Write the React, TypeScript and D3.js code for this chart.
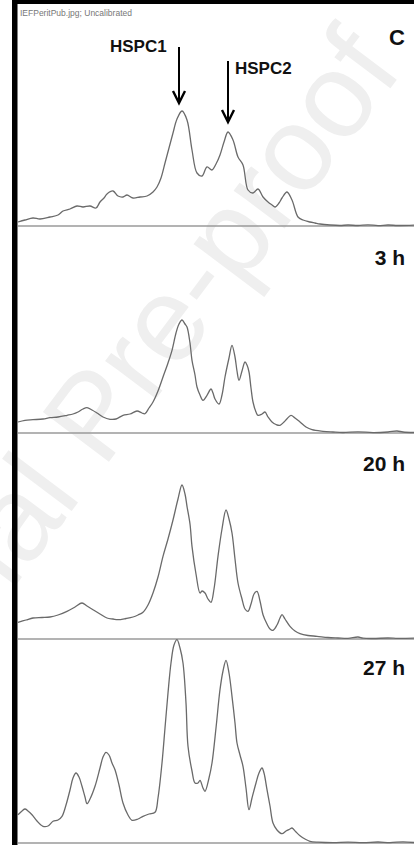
import React, { useEffect } from 'react';
import * as d3 from 'd3';

// densitometry scans, position (arbitrary units) vs intensity
const panelLabels = ['C', '3 h', '20 h', '27 h'];

const scan0h: [number, number][] = [
  [0, 4], [7, 6], [15, 8], [22, 7], [32, 9], [40, 11], [45, 15], [52, 17], [59, 20], [65, 19],
  [72, 20], [78, 18], [82, 24], [86, 28], [89, 32], [95, 35], [100, 30], [105, 29], [109, 31],
  [115, 28], [122, 29], [129, 30], [135, 34], [139, 39], [143, 48], [147, 63], [151, 78],
  [155, 93], [159, 107], [164, 115], [169, 106], [174, 76], [179, 53], [184, 50], [189, 59],
  [194, 56], [198, 62], [202, 71], [206, 84], [210, 94], [215, 86], [220, 69], [225, 61],
  [230, 36], [235, 33], [240, 37], [245, 29], [250, 24], [254, 21], [257, 19], [261, 23],
  [264, 28], [269, 34], [274, 26], [280, 9], [285, 6], [292, 4], [297, 3], [302, 2], [312, 1],
  [322, 0.5], [330, 1], [340, 0.5], [350, 1.2], [360, 0.4], [370, 1], [380, 0.5], [396, 0.8],
];

const scan3h: [number, number][] = [
  [0, 11], [7, 12.7], [15, 13.3], [25, 14], [32, 15.3], [40, 16], [49, 17.7], [55, 19], [60, 21],
  [65, 24], [69, 25.3], [74, 23], [79, 20], [85, 16], [92, 13.7], [98, 14], [105, 17.7], [112, 19],
  [119, 22], [124, 20], [127, 19.3], [131, 25], [135, 31], [140, 42], [145, 56], [150, 70],
  [154, 82.7], [158, 100], [161, 109], [164, 113], [167, 109], [169, 106], [172, 90], [174, 72.7],
  [177, 58], [179, 46], [182, 38], [185, 32.7], [189, 37.7], [193, 44], [195, 40], [197, 34],
  [201, 29], [204, 38], [207, 56], [211, 75], [214, 87.7], [217, 76], [219, 62], [221, 52.7],
  [224, 62], [227, 71], [229, 68], [231, 61], [233, 45], [235, 31], [238, 21], [240, 17.7],
  [244, 19], [247, 21], [250, 16], [254, 11], [258, 8.5], [262, 7.7], [266, 11], [269, 14.3],
  [273, 17.7], [277, 15], [282, 11], [288, 6], [294, 3.3], [305, 1.7], [315, 1], [325, 0.5],
  [340, 1.2], [355, 0.4], [370, 1], [379, 2], [385, 1], [396, 0.5],
];

const scan20h: [number, number][] = [
  [0, 16.7], [8, 19], [15, 21], [24, 21.5], [32, 22], [40, 24], [49, 27.7], [57, 32], [64, 36],
  [69, 33], [75, 29.3], [82, 25], [89, 21], [95, 20], [100, 19.3], [108, 20.5], [115, 22],
  [120, 24], [125, 26.7], [130, 34], [135, 46], [140, 62], [145, 82.7], [150, 100], [155, 119],
  [160, 140], [164, 154], [167, 145], [169, 132.7], [172, 115], [174, 92.7], [178, 65], [182, 46],
  [184, 48], [187, 46], [190, 40], [193, 36.7], [196, 50], [200, 82.7], [204, 110], [208, 129],
  [211, 120], [214, 106], [217, 80], [220, 56], [224, 40], [227, 30], [230, 27.7], [233, 35],
  [236, 45], [239, 47.7], [242, 38], [245, 24.3], [249, 15], [252, 10], [255, 8.7], [259, 14],
  [262, 21], [264, 24.3], [267, 20], [272, 12.7], [277, 8], [282, 5.3], [290, 3.5], [299, 2.7],
  [310, 1.5], [320, 1], [330, 0.6], [340, 2], [345, 0.8], [355, 0.5], [370, 1], [380, 0.6], [396, 0.8],
];

const scan27h: [number, number][] = [
  [0, 28.3], [4, 32], [7, 34], [10, 32], [14, 28.3], [19, 22], [25, 16.7], [30, 17], [35, 21.7],
  [40, 23], [44, 26.7], [48, 38], [52, 53], [55, 65], [58, 70], [61, 66], [64, 56.7], [67, 46],
  [69, 39.3], [72, 44], [77, 56.7], [82, 75], [85, 86], [88, 90.7], [91, 88], [94, 80], [97, 73.3],
  [101, 58], [105, 40], [110, 28], [114, 22.7], [120, 24], [125, 26.7], [131, 29], [137, 30.7],
  [140, 45], [144, 80], [147, 115], [150, 150], [153, 180], [156, 198], [159, 203.3], [162, 195],
  [165, 180], [168, 140], [170, 96.7], [174, 72], [177, 60], [180, 60], [182, 62.7], [185, 55],
  [187, 51.7], [191, 65], [194, 80], [198, 115], [202, 153.3], [205, 172], [208, 182.7], [211, 170],
  [214, 146.7], [217, 120], [219, 100], [222, 88], [225, 76.7], [228, 55], [231, 33.3], [234, 45],
  [238, 60], [241, 70], [244, 75], [246, 70], [249, 53.3], [252, 37], [255, 20], [259, 13],
  [264, 9.3], [268, 12], [272, 14], [274, 15], [278, 11], [282, 7.3], [287, 4], [292, 1.7],
  [300, 0.8], [315, 0.3], [330, 0.8], [345, 0.3], [360, 1], [372, 0.4], [385, 1.2], [396, 0.5],
];

const scans = [scan0h, scan3h, scan20h, scan27h];

// peak markers on the first scan: position, arrow tip and arrow tail (intensity units)
const peakNames = ['HSPC1', 'HSPC2'];
const peakPos = [161, 210];
const peakTip = [123, 104];
const peakTail = [179, 165];

const W = 414;
const H = 845;
const left = 18;
const baselines = [226, 433, 639, 843];

export default function App() {
  useEffect(() => {
    document.body.style.margin = '0';
  }, []);

  const x = d3.scaleLinear().domain([0, 396]).range([left, W]);
  const yFor = (b: number) => d3.scaleLinear().domain([0, 200]).range([b, b - 200]);

  const font = 'Arial, "Liberation Sans", sans-serif';

  return (
    <svg width={W} height={H} style={{ display: 'block', background: '#fff' }}>
      {/* watermark */}
      <text
        transform="translate(404,70) rotate(-53)"
        textAnchor="end"
        fontFamily={font}
        fontSize={120}
        fill="#efefef"
      >
        Journal Pre-proof
      </text>

      {scans.map((data, i) => {
        const y = yFor(baselines[i]);
        const line = d3
          .line<[number, number]>()
          .x((d) => x(d[0]))
          .y((d) => y(d[1]))
          .curve(d3.curveCatmullRom.alpha(0.5));
        return (
          <g key={i}>
            <line x1={left} x2={W} y1={baselines[i]} y2={baselines[i]} stroke="#9a9a9a" strokeWidth={1.6} />
            <path d={line(data) || ''} fill="none" stroke="#6a6a6a" strokeWidth={1.3} />
            <text
              x={405}
              y={i === 0 ? 45 : baselines[i] - 168}
              textAnchor="end"
              fontFamily={font}
              fontWeight="bold"
              fontSize={i === 0 ? 22 : 21}
              fill="#111"
            >
              {panelLabels[i]}
            </text>
          </g>
        );
      })}

      {peakNames.map((name, i) => {
        const y = yFor(baselines[0]);
        const px = x(peakPos[i]);
        const tip = y(peakTip[i]);
        const tail = y(peakTail[i]);
        return (
          <g key={name}>
            <line x1={px} x2={px} y1={tail} y2={tip} stroke="#000" strokeWidth={2} />
            <path
              d={`M${px - 6},${tip - 12}L${px},${tip}L${px + 6},${tip - 12}`}
              fill="none"
              stroke="#000"
              strokeWidth={2.4}
            />
            <text
              x={i === 0 ? px - 69 : px + 7}
              y={i === 0 ? 52 : 74}
              fontFamily={font}
              fontWeight="bold"
              fontSize={17}
              fill="#111"
            >
              {name}
            </text>
          </g>
        );
      })}

      {/* frame */}
      <rect x={12} y={0} width={W - 12} height={4} fill="#000" />
      <rect x={12} y={0} width={5.5} height={H} fill="#000" />
      <text x={20} y={16} fontFamily={font} fontSize={8.5} fill="#777">
        IEFPeritPub.jpg; Uncalibrated
      </text>
    </svg>
  );
}
